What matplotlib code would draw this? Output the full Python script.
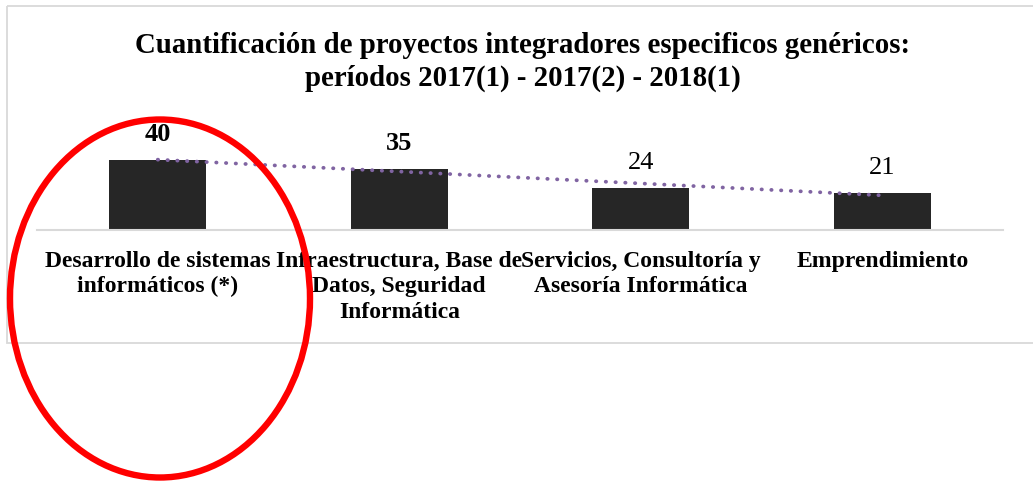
import numpy as np
import matplotlib
matplotlib.use("Agg")
import matplotlib.pyplot as plt
from matplotlib.patches import Ellipse, Rectangle

categorias = [
    "Desarrollo de sistemas\ninformáticos (*)",
    "Infraestructura, Base de\nDatos, Seguridad\nInformática",
    "Servicios, Consultoría y\nAsesoría Informática",
    "Emprendimiento",
]
proyectos = [40, 35, 24, 21]
etiquetas_negrita = [True, True, False, False]

titulo = ("Cuantificación de proyectos integradores especificos genéricos:\n"
          "períodos 2017(1) - 2017(2) - 2018(1)")

plt.rcParams["font.family"] = ["Liberation Serif", "DejaVu Serif"]

W, H = 1033, 482
fig = plt.figure(figsize=(W / 100, H / 100), dpi=100)

# plot area: baseline at y=230 px, from x=36 to x=1002
ax = fig.add_axes([37 / W, 1 - 230 / H, 966 / W, 87.5 / H])
x = np.arange(len(proyectos))
ax.bar(x, proyectos, width=0.40, color="#262626", zorder=2)
ax.set_xlim(-0.5, len(proyectos) - 0.5)
ax.set_ylim(0, 50)

# linear trendline over the bars
m, b = np.polyfit(x, proyectos, 1)
ax.plot(x, m * x + b, color="#8064A2", linewidth=2.7,
        linestyle=(0, (0.1, 2.5)), dash_capstyle="round", zorder=3)

for xi, v, neg in zip(x, proyectos, etiquetas_negrita):
    ax.annotate(str(v), (xi, v), xytext=(0, 14), textcoords="offset pixels",
                ha="center", va="bottom", fontsize=19,
                fontweight="bold" if neg else "normal", clip_on=False)

for s in ["top", "right", "left"]:
    ax.spines[s].set_visible(False)
ax.spines["bottom"].set_color("#D9D9D9")
ax.spines["bottom"].set_linewidth(1.5)
ax.set_yticks([])
ax.set_xticks(x)
ax.set_xticklabels(categorias, fontsize=17, fontweight="bold",
                   linespacing=1.28, va="top")
ax.tick_params(axis="x", length=0, pad=15)

# overlay in pixel coordinates for the frame, title and ellipse
ov = fig.add_axes([0, 0, 1, 1], zorder=5)
ov.set_xlim(0, W)
ov.set_ylim(H, 0)
ov.axis("off")
ov.patch.set_alpha(0)
ov.add_patch(Rectangle((6.5, 5.5), 1040, 337.5, fill=False,
                       edgecolor="#D9D9D9", linewidth=1.3))
ov.text(523, 62, titulo, ha="center", va="center", fontsize=20.8,
        fontweight="bold", linespacing=1.3)
ov.add_patch(Ellipse((160, 298.5), 300, 358, fill=False,
                     edgecolor="#FF0000", linewidth=4.6))

fig.savefig("out.png", dpi=100, facecolor="white")
